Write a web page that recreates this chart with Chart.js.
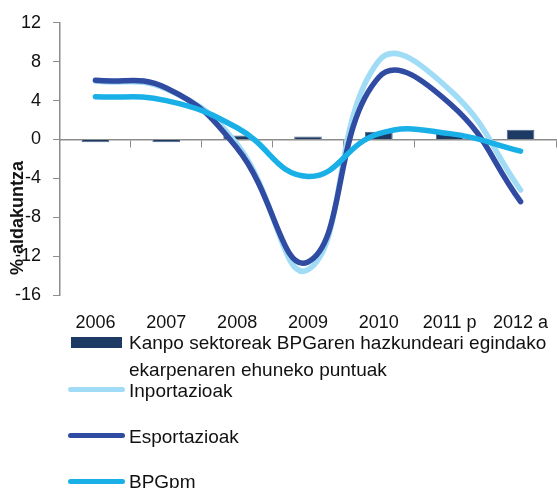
<!DOCTYPE html>
<html>
<head>
<meta charset="utf-8">
<script src="https://cdn.jsdelivr.net/npm/chart.js@4/dist/chart.umd.min.js"></script>
<style>
  html, body { margin: 0; padding: 0; background: #ffffff; }
  #wrap { position: relative; width: 557px; height: 488px; overflow: hidden; font-family: "Liberation Sans", Arial, sans-serif; color: #111; }
  canvas { position: absolute; left: 0; top: 0; }
  #ytitle { position: absolute; left: 17px; top: 218px; transform: translate(-50%, -50%) rotate(-90deg); font-weight: bold; font-size: 18px; white-space: nowrap; line-height: 1; }
  .sw { position: absolute; }
  .lt { position: absolute; left: 129px; font-size: 19px; line-height: 27px; white-space: nowrap; }
</style>
</head>
<body>
<div id="wrap">
  <canvas id="c" width="557" height="488"></canvas>
  <div id="ytitle">% aldakuntza</div>
  <div id="legend"></div>
</div>
<script>
const categories = ['2006', '2007', '2008', '2009', '2010', '2011 p', '2012 a'];
const kanpoSektorea = [-0.3, -0.3, 0.4, 0.3, 0.8, 0.7, 1.0];
const inportazioak = [6.0, 5.2, -0.5, -13.4, 8.1, 5.1, -5.2];
const esportazioak = [6.1, 5.3, -0.9, -12.6, 6.4, 3.7, -6.4];
const bpgpm = [4.4, 4.0, 1.2, -3.8, 0.6, 0.6, -1.2];
const yMin = -16, yMax = 12, yStep = 4;
const seriesNames = [
  'Kanpo sektoreak BPGaren hazkundeari egindako ekarpenaren ehuneko puntuak',
  'Inportazioak',
  'Esportazioak',
  'BPGpm'
];
const colors = { bar: '#1C3A63', barBorder: '#4F6789', imp: '#A0DCF5', exp: '#2F4CA2', bpg: '#19AFE7', axis: '#8C8C8C' };

Chart.defaults.font.family = '"Liberation Sans", Arial, sans-serif';
Chart.defaults.color = '#111';

const lineOpts = { type: 'line', fill: false, borderWidth: 5.5, pointRadius: 0, pointHoverRadius: 0, tension: 0.45, borderCapStyle: 'round', borderJoinStyle: 'round', xAxisID: 'x', yAxisID: 'y' };

new Chart(document.getElementById('c'), {
  type: 'bar',
  data: {
    labels: categories,
    datasets: [
      { label: seriesNames[0], data: kanpoSektorea, backgroundColor: colors.bar, borderColor: colors.barBorder, borderWidth: 1, barPercentage: 0.39, categoryPercentage: 1, order: 4, xAxisID: 'x', yAxisID: 'y' },
      Object.assign({ label: seriesNames[1], data: inportazioak, borderColor: colors.imp, backgroundColor: colors.imp, order: 3 }, lineOpts),
      Object.assign({ label: seriesNames[2], data: esportazioak, borderColor: colors.exp, backgroundColor: colors.exp, order: 2 }, lineOpts),
      Object.assign({ label: seriesNames[3], data: bpgpm, borderColor: colors.bpg, backgroundColor: colors.bpg, order: 1 }, lineOpts)
    ]
  },
  options: {
    responsive: false,
    animation: false,
    layout: { padding: { left: 0, right: 1, top: 22, bottom: 153 } },
    plugins: { legend: { display: false }, tooltip: { enabled: false } },
    scales: {
      x: {
        type: 'category',
        position: { y: 0 },
        offset: true,
        grid: { offset: true, drawOnChartArea: false, drawTicks: true, tickLength: 7, color: colors.axis },
        border: { display: true, color: colors.axis, width: 1.5 },
        ticks: { display: false }
      },
      x2: {
        type: 'category',
        position: 'bottom',
        offset: true,
        grid: { display: true, drawOnChartArea: false, drawTicks: true, tickLength: 17, color: 'rgba(0,0,0,0)' },
        border: { display: false },
        ticks: { font: { size: 18 }, color: '#111', padding: 0, maxRotation: 0, autoSkip: false },
        afterFit: (s) => { s.height = 40; }
      },
      y: {
        type: 'linear',
        position: 'left',
        min: yMin,
        max: yMax,
        ticks: { stepSize: yStep, font: { size: 18 }, color: '#111', padding: 12 },
        grid: { drawOnChartArea: false, drawTicks: true, tickLength: 7, color: colors.axis },
        border: { display: true, color: colors.axis, width: 1.5 },
        afterFit: (s) => { s.width = 60; }
      }
    }
  }
});

// Legend (HTML text)
const legend = document.getElementById('legend');
function addSwatch(left, top, w, h, color, radius) {
  const d = document.createElement('div');
  d.className = 'sw';
  Object.assign(d.style, { left: left + 'px', top: top + 'px', width: w + 'px', height: h + 'px', background: color, borderRadius: radius + 'px' });
  legend.appendChild(d);
}
function addText(top, html) {
  const d = document.createElement('div');
  d.className = 'lt';
  d.style.top = top + 'px';
  d.innerHTML = html;
  legend.appendChild(d);
}
addSwatch(71, 337, 51, 11, colors.bar, 0);
addText(329, 'Kanpo sektoreak BPGaren hazkundeari egindako<br>ekarpenaren ehuneko puntuak');
addSwatch(68, 386.5, 57, 5, colors.imp, 3);
addText(377, seriesNames[1]);
addSwatch(68, 432.5, 57, 5, colors.exp, 3);
addText(423, seriesNames[2]);
addSwatch(68, 478.5, 57, 5, colors.bpg, 3);
addText(468, seriesNames[3]);
</script>
</body>
</html>
